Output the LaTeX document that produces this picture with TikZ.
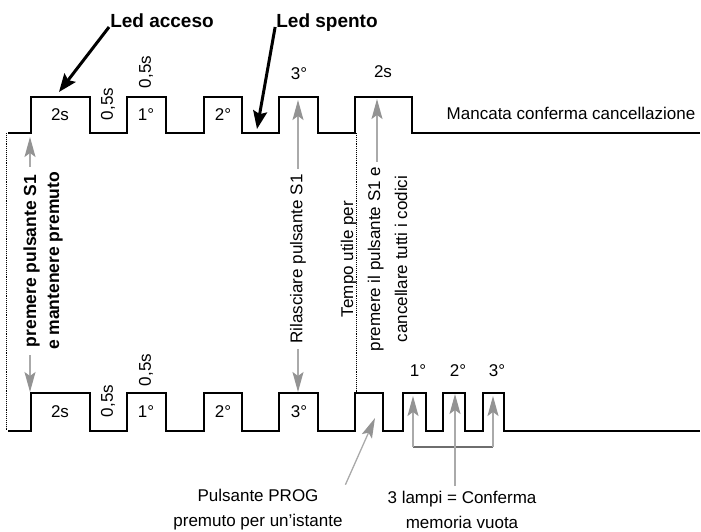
\documentclass[tikz,border=0pt]{standalone}
\usepackage{fontspec}
\setmainfont{Liberation Sans}
\usetikzlibrary{arrows.meta,positioning}
\definecolor{lineGray}{HTML}{AAAAAA}
\definecolor{tipGray}{HTML}{939393}
\definecolor{brkGray}{HTML}{6E6E6E}

\begin{document}
\begin{tikzpicture}[
x=1pt,y=-1pt,
txt/.style={inner sep=1pt,font=\fontsize{17}{25}\selectfont,align=center},
bld/.style={inner sep=1pt,font=\fontsize{19}{23}\selectfont\bfseries,align=center},
vtxt/.style={txt,rotate=90},
wave/.style={line width=2.6pt,line join=miter},
dots/.style={densely dotted,line width=0.9pt},
barr/.style={-{Stealth[length=18pt,width=14pt,inset=3pt]},line width=3pt},
garr/.style={-{Stealth[length=20pt,width=11pt,inset=4pt,color=tipGray]},lineGray,line width=1.3pt,shorten <=4pt},
brk/.style={brkGray,line width=2pt}
]
\useasboundingbox (0,0) rectangle (701,531);

\draw[dots] (6,133) -- (6,431);
\draw[dots] (356,133) -- (356,393);
\draw[wave] (8,133) -| (31,97) -| (90,133) -| (127,97) -| (166,133) -| (204,97) -| (242,133) -| (279,97) -| (318,133) -| (355,97) -| (412,133) -- (700,133);
\draw[wave] (8,431) -| (31,393) -| (90,431) -| (127,393) -| (166,431) -| (204,393) -| (242,431) -| (279,393) -| (318,431) -| (355,393) -| (383,431) -| (403,393) -| (426,431) -| (443,393) -| (465,431) -| (483,393) -| (504,431) -- (700,431);

\node[txt] (t2s) at (60,115) {2s};
\node[vtxt] (tgap) at (108,104) {0,5s};
\node[txt] (t1) at (146,115) {1°};
\node[vtxt] (thigh) at (146,72) {0,5s};
\node[txt] (t2) at (223,115) {2°};
\node[txt] (t3) at (299,74) {3°};
\node[txt] (tlong) at (383,72) {2s};
\node[txt] (tmsg) at (571,113) {Mancata conferma cancellazione};

\node[txt] (b2s) at (60,412) {2s};
\node[vtxt] (bgap) at (108,401) {0,5s};
\node[txt] (b1) at (146,412) {1°};
\node[vtxt] (bhigh) at (146,370) {0,5s};
\node[txt] (b2) at (223,412) {2°};
\node[txt] (b3) at (299,412) {3°};
\node[txt] (bf1) at (418,371) {1°};
\node[txt] (bf2) at (458,371) {2°};
\node[txt] (bf3) at (497,371) {3°};

\node[bld,anchor=base] (acceso) at (162,27) {Led acceso};
\node[bld,anchor=base] (spento) at (327,27) {Led spento};
\coordinate (accTip) at (59,92);
\coordinate (spTip) at (257,129);
\draw[barr] (acceso.base west) -- (accTip);
\draw[barr] (spento.base west) -- (spTip);

\node[vtxt,font=\fontsize{17.5}{23}\selectfont\bfseries] (press) at (43,261) {premere pulsante S1\\e mantenere premuto};
\coordinate (pressUp) at (30,137);
\coordinate (pressDn) at (30,392);
\draw[garr] (press.east -| pressUp) -- (pressUp);
\draw[garr] (press.west -| pressDn) -- (pressDn);

\node[vtxt] (release) at (298,259) {Rilasciare pulsante S1};
\coordinate (relUp) at (298,100);
\coordinate (relDn) at (298,392);
\draw[garr] (release.east) -- (relUp);
\draw[garr] (release.west) -- (relDn);

\node[vtxt,font=\fontsize{17}{27}\selectfont] (window) at (374,259) {Tempo utile per\\premere il pulsante S1 e\\cancellare tutti i codici};
\coordinate (winUp) at (377,99);
\draw[garr] (window.east -| winUp) -- (winUp);

\node[txt] (prog) at (258,510) {Pulsante PROG\\premuto per un'istante};
\coordinate (progTip) at (375,418);
\draw[garr] (prog.north east) -- (progTip);

\node[txt] (empty) at (462,510) {3 lampi = Conferma\\memoria vuota};
\coordinate (fl1) at (413,396);
\coordinate (fl2) at (455,394);
\coordinate (fl3) at (493,396);
\coordinate (brkL) at (413,447);
\coordinate (brkR) at (493,447);
\draw[brk] (brkL) -- (brkR);
\draw[garr,shorten <=0pt] (brkL) -- (fl1);
\draw[garr,shorten <=0pt] (brkR) -- (fl3);
\draw[garr] (empty.north -| fl2) -- (fl2);
\end{tikzpicture}
\end{document}
